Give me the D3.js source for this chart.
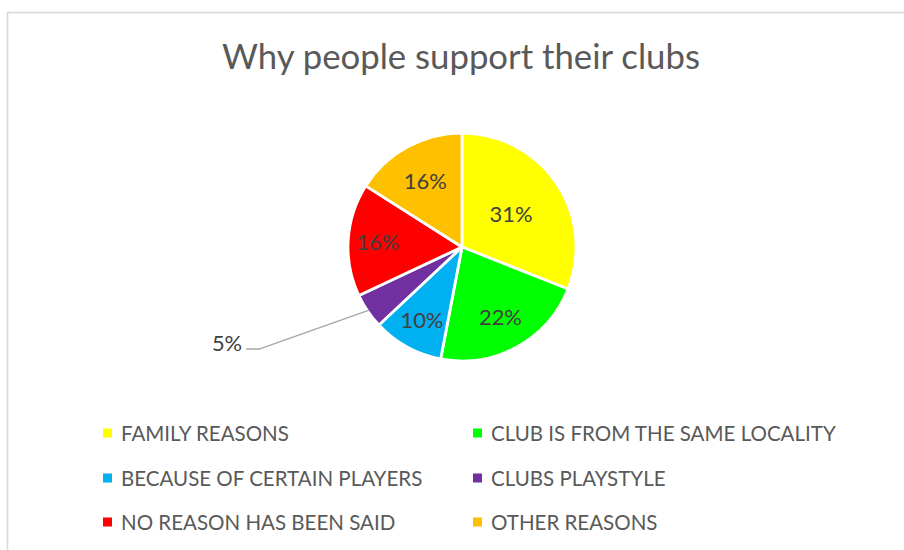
<!DOCTYPE html>
<html>
<head>
<meta charset="utf-8">
<script src="https://cdn.jsdelivr.net/npm/d3@7"></script>
<style>
  body { margin: 0; background: #fff; }
  svg { display: block; }
</style>
</head>
<body>
<svg id="chart" width="904" height="550"></svg>
<script>
// Chart data
const chartTitle = "Why people support their clubs";
const categories = [
  "FAMILY REASONS",
  "CLUB IS FROM THE SAME LOCALITY",
  "BECAUSE OF CERTAIN PLAYERS",
  "CLUBS PLAYSTYLE",
  "NO REASON HAS BEEN SAID",
  "OTHER REASONS"
];
const shares = [31, 22, 10, 5, 16, 16];
const sliceColors = ["#FFFF00", "#00FF00", "#00B0F0", "#7030A0", "#FF0000", "#FFC000"];

// Layout
const W = 904, H = 550;
const cx = 462, cy = 247, R = 114;
const FONT = "Lato, 'Liberation Sans', sans-serif";
// fraction of the radius where each in-slice label sits (0 = callout outside)
const labelRadius = [0.52, 0.70, 0.73, 0, 0.74, 0.67];

const svg = d3.select("#chart");

// frame
svg.append("rect")
  .attr("x", 7.5).attr("y", 12.5)
  .attr("width", 1000).attr("height", 1000)
  .attr("fill", "#fff")
  .attr("stroke", "#d9d9d9").attr("stroke-width", 1.6);

// fit a text element's font size so that its width matches a target width
function fitWidth(sel, target) {
  const node = sel.node();
  const fs = parseFloat(sel.attr("font-size"));
  const w = node.getComputedTextLength();
  sel.attr("font-size", (fs * target / w).toFixed(2));
}

// title
const titleEl = svg.append("text")
  .attr("x", 461).attr("y", 69)
  .attr("text-anchor", "middle")
  .attr("font-family", FONT)
  .attr("font-size", 30)
  .attr("fill", "#595959")
  .text(chartTitle);
fitWidth(titleEl, 478);

// pie
const pie = d3.pie().value(d => d).sort(null);
const arcs = pie(shares);
const arc = d3.arc().innerRadius(0).outerRadius(R);

const g = svg.append("g").attr("transform", `translate(${cx},${cy})`);

g.selectAll("path.slice")
  .data(arcs)
  .join("path")
  .attr("class", "slice")
  .attr("d", arc)
  .attr("fill", (d, i) => sliceColors[i])
  .attr("stroke", "#fff")
  .attr("stroke-width", 2.8)
  .attr("stroke-linejoin", "round");

// measure percent label size once
const probe = svg.append("text")
  .attr("font-family", FONT).attr("font-size", 24).text("31%");
fitWidth(probe, 43);
const labelSize = +probe.attr("font-size");
probe.remove();

arcs.forEach((d, i) => {
  const txt = shares[i] + "%";
  if (labelRadius[i] > 0) {
    const rr = R * labelRadius[i];
    const la = d3.arc().innerRadius(rr).outerRadius(rr);
    const [lx, ly] = la.centroid(d);
    g.append("text")
      .attr("x", lx).attr("y", ly)
      .attr("text-anchor", "middle")
      .attr("dominant-baseline", "central")
      .attr("font-family", FONT)
      .attr("font-size", labelSize)
      .attr("fill", "#404040")
      .text(txt);
  } else {
    // callout with leader line for the thin slice
    const edge = d3.arc().innerRadius(R * 0.985).outerRadius(R * 0.985).centroid(d);
    const elbow = [edge[0] - 110, edge[1] + 39];
    const end = [elbow[0] - 13, elbow[1]];
    g.append("polyline")
      .attr("points", [edge, elbow, end].map(p => p.join(",")).join(" "))
      .attr("fill", "none")
      .attr("stroke", "#a6a6a6")
      .attr("stroke-width", 1.5);
    g.append("text")
      .attr("x", end[0] - 4).attr("y", end[1] - 7)
      .attr("text-anchor", "end")
      .attr("dominant-baseline", "central")
      .attr("font-family", FONT)
      .attr("font-size", labelSize)
      .attr("fill", "#404040")
      .text(txt);
  }
});

// legend: two columns, three rows
const legendCols = [103, 473];
const legendRows = [433, 478, 522];
const legendProbe = svg.append("text")
  .attr("font-family", FONT).attr("font-size", 20).text(categories[0]);
fitWidth(legendProbe, 168);
const legendSize = +legendProbe.attr("font-size");
legendProbe.remove();

const legend = svg.append("g");
categories.forEach((name, i) => {
  const x = legendCols[i % 2], y = legendRows[Math.floor(i / 2)];
  const item = legend.append("g").attr("transform", `translate(${x},${y})`);
  item.append("rect")
    .attr("x", 0).attr("y", -4.5)
    .attr("width", 9).attr("height", 9)
    .attr("fill", sliceColors[i]);
  item.append("text")
    .attr("x", 18).attr("y", 0)
    .attr("dominant-baseline", "central")
    .attr("font-family", FONT)
    .attr("font-size", legendSize)
    .attr("fill", "#595959")
    .text(name);
});
</script>
</body>
</html>
